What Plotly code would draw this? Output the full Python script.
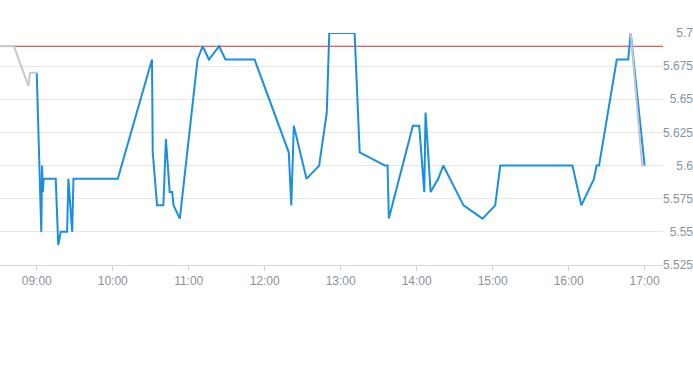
import plotly.graph_objects as go

DAY = "2024-01-02 "

# Pre-market (grey)
pre_times = ["08:31", "08:42", "08:53:24", "08:54:42", "09:00"]
pre_values = [5.69, 5.69, 5.66, 5.67, 5.67]

# Regular session (blue)
main_times = [
    "09:00", "09:03:36", "09:04:12", "09:04:48", "09:05:30", "09:15", "09:17", "09:19",
    "09:24", "09:25", "09:28", "09:29", "10:04", "10:31", "10:31:36", "10:35",
    "10:40", "10:42", "10:45", "10:47", "10:48", "10:53", "11:07", "11:11",
    "11:16", "11:24", "11:29", "11:52", "12:19", "12:21", "12:23", "12:33",
    "12:43", "12:49", "12:51", "13:11", "13:15", "13:35", "13:37", "13:38",
    "13:57", "14:02", "14:06", "14:07", "14:11", "14:17", "14:21", "14:32",
    "14:37", "14:52", "15:02", "15:06", "16:03", "16:10", "16:20", "16:22",
    "16:24", "16:38", "16:47", "16:49", "17:00",
]
main_values = [
    5.67, 5.55, 5.60, 5.58, 5.59, 5.59, 5.54, 5.55,
    5.55, 5.59, 5.55, 5.59, 5.59, 5.68, 5.61, 5.57,
    5.57, 5.62, 5.58, 5.58, 5.57, 5.56, 5.68, 5.69,
    5.68, 5.69, 5.68, 5.68, 5.61, 5.57, 5.63, 5.59,
    5.60, 5.64, 5.70, 5.70, 5.61, 5.60, 5.60, 5.56,
    5.63, 5.63, 5.58, 5.64, 5.58, 5.59, 5.60, 5.58,
    5.57, 5.56, 5.57, 5.60, 5.60, 5.57, 5.59, 5.60,
    5.60, 5.68, 5.68, 5.70, 5.60,
]

# After-hours (grey)
post_times = ["16:49", "16:58", "17:00"]
post_values = [5.70, 5.60, 5.60]

reference_level = 5.69
x_range = ["08:31", "17:14:30"]
y_ticks = [5.525, 5.55, 5.575, 5.6, 5.625, 5.65, 5.675, 5.7]
y_tick_text = ["5.525", "5.55", "5.575", "5.6", "5.625", "5.65", "5.675", "5.7"]
x_ticks = ["09:00", "10:00", "11:00", "12:00", "13:00", "14:00", "15:00", "16:00", "17:00"]

BLUE = "#1a8fe0"
GREY = "#c2c9d1"
RED = "#d0312d"
LABEL = "#8693a0"
FONT = "Liberation Sans, Arial, sans-serif"

fig = go.Figure()
fig.add_trace(go.Scatter(
    x=[DAY + t for t in main_times], y=main_values, mode="lines",
    line=dict(color=BLUE, width=2), hoverinfo="skip", showlegend=False))
fig.add_trace(go.Scatter(
    x=[DAY + t for t in pre_times], y=pre_values, mode="lines",
    line=dict(color=GREY, width=2), hoverinfo="skip", showlegend=False))
fig.add_trace(go.Scatter(
    x=[DAY + t for t in post_times], y=post_values, mode="lines",
    line=dict(color=GREY, width=2), hoverinfo="skip", showlegend=False))

fig.add_shape(type="line", xref="x domain", yref="y", x0=0, x1=1,
              y0=reference_level, y1=reference_level,
              line=dict(color=RED, width=1), layer="below")

fig.update_layout(
    width=693, height=365,
    margin=dict(l=0, r=0, t=33, b=100),
    paper_bgcolor="white", plot_bgcolor="white",
    font=dict(family=FONT, size=12, color=LABEL),
    xaxis=dict(
        type="date", domain=[0, 663 / 693],
        range=[DAY + x_range[0], DAY + x_range[1]],
        tickvals=[DAY + t for t in x_ticks], ticktext=x_ticks,
        showgrid=False, showline=True, linecolor="#ccd6eb", linewidth=1,
        ticks="outside", ticklen=5, tickcolor="#ccd6eb", tickwidth=1,
        tickfont=dict(family=FONT, size=12, color=LABEL),
        zeroline=False, fixedrange=True,
    ),
    yaxis=dict(
        range=[5.525, 5.7], anchor="free", position=1, side="left",
        tickvals=y_ticks, ticktext=y_tick_text,
        showgrid=True, gridcolor="#e6e6e6", gridwidth=1,
        showline=False, ticks="", zeroline=False,
        tickfont=dict(family=FONT, size=12, color=LABEL),
        fixedrange=True,
    ),
)

fig.write_html("out.html")
